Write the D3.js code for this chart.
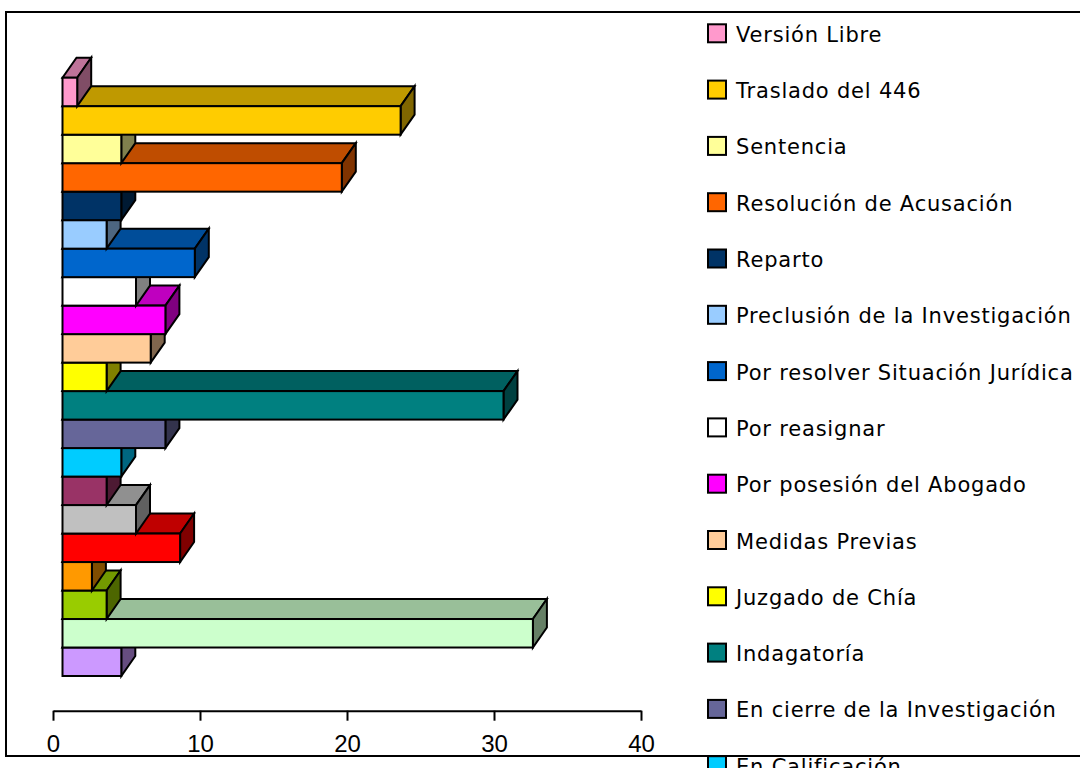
<!DOCTYPE html>
<html>
<head>
<meta charset="utf-8">
<script src="https://cdn.jsdelivr.net/npm/d3@7"></script>
<style>
  body { margin: 0; background: #fff; }
  svg { display: block; }
</style>
</head>
<body>
<div class="chart"></div>
<script>
//categories from top to bottom, as in the legend
var categories = ["Versión Libre", "Traslado del 446", "Sentencia", "Resolución de Acusación",
  "Reparto", "Preclusión de la Investigación", "Por resolver Situación Jurídica", "Por reasignar",
  "Por posesión del Abogado", "Medidas Previas", "Juzgado de Chía", "Indagatoría",
  "En cierre de la Investigación", "En Calificación", "En Apelación", "Devolución",
  "Despacho Comisorio", "Cesación de Procedimiento", "Auto Inhibitorio",
  "Apertura de Instrucción", "Acumulación"];

//number of processes in each state
var values = [1, 23, 4, 19, 4, 3, 9, 5, 7, 6, 3, 30, 7, 4, 3, 5, 8, 2, 3, 32, 4];

//front colour of each bar
var colors = ["#FF99CC", "#FFCC00", "#FFFF99", "#FF6600", "#003366", "#99CCFF", "#0066CC",
  "#FFFFFF", "#FF00FF", "#FFCC99", "#FFFF00", "#008080", "#666699", "#00CCFF", "#993366",
  "#C0C0C0", "#FF0000", "#FF9900", "#99CC00", "#CCFFCC", "#CC99FF"];

//value axis ticks
var ticks = [0, 10, 20, 30, 40];

var width = 1080, height = 768;

var svg = d3.select(".chart").append("svg")
  .attr("width", width)
  .attr("height", height);

//chart border (the right side runs off the picture)
svg.append("rect")
  .attr("x", 6).attr("y", 12)
  .attr("width", 1100).attr("height", 744)
  .attr("fill", "none")
  .attr("stroke", "#000")
  .attr("stroke-width", 2);

//scales
var x = d3.scaleLinear().domain([0, 40]).range([53, 641]);
var barShift = 9.5; //front of the bars sits a bit right of the axis
var y = d3.scaleBand().domain(categories).range([77.7, 676]).padding(0);

//depth of the 3d effect
var depthX = 14, depthY = -20;

//makes a colour darker by a factor
function shade(c, k) {
  var rgb = d3.rgb(c);
  return d3.rgb(rgb.r * k, rgb.g * k, rgb.b * k).formatHex();
}

var rows = categories.map(function(name, i) {
  return { name: name, value: values[i], color: colors[i] };
});

//draw bars from the bottom up so the upper fronts cover the lower tops
var bars = svg.append("g").selectAll(".bar")
  .data(rows.slice().reverse())
  .enter()
  .append("g")
  .attr("class", "bar");

function face(points) {
  return "M" + points.map(function(p) { return p.join(","); }).join("L") + "Z";
}

bars.append("path")
  .attr("d", function(d) {
    var x0 = x(0) + barShift, x1 = x(d.value) + barShift, y0 = y(d.name);
    return face([[x0, y0], [x1, y0], [x1 + depthX, y0 + depthY], [x0 + depthX, y0 + depthY]]);
  })
  .attr("fill", function(d) { return shade(d.color, 0.75); });

bars.append("path")
  .attr("d", function(d) {
    var x1 = x(d.value) + barShift, y0 = y(d.name), y1 = y0 + y.bandwidth();
    return face([[x1, y0], [x1, y1], [x1 + depthX, y1 + depthY], [x1 + depthX, y0 + depthY]]);
  })
  .attr("fill", function(d) { return shade(d.color, 0.5); });

bars.append("rect")
  .attr("x", x(0) + barShift)
  .attr("y", function(d) { return y(d.name); })
  .attr("width", function(d) { return x(d.value) - x(0); })
  .attr("height", y.bandwidth())
  .attr("fill", function(d) { return d.color; });

bars.selectAll("path, rect")
  .attr("stroke", "#000")
  .attr("stroke-width", 2)
  .attr("stroke-linejoin", "miter");

//value axis
var axis = svg.append("g")
  .attr("transform", "translate(0,710.7)")
  .call(d3.axisBottom(x).tickValues(ticks).tickSize(10).tickSizeOuter(0).tickPadding(14));

axis.select(".domain").attr("stroke", "#000").attr("stroke-width", 2);
axis.selectAll(".tick line").attr("stroke", "#000").attr("stroke-width", 2);
axis.selectAll(".tick text")
  .attr("fill", "#000")
  .style("font-family", "'Liberation Sans', Arial, sans-serif")
  .style("font-size", "24px");

//legend
var legend = svg.append("g").selectAll(".item")
  .data(rows)
  .enter()
  .append("g")
  .attr("class", "item")
  .attr("transform", function(d, i) { return "translate(708," + (24.3 + i * 56.3) + ")"; });

legend.append("rect")
  .attr("width", 18)
  .attr("height", 18)
  .attr("fill", function(d) { return d.color; })
  .attr("stroke", "#000")
  .attr("stroke-width", 2);

legend.append("text")
  .attr("x", 28)
  .attr("y", 17.5)
  .text(function(d) { return d.name; })
  .style("font-family", "'DejaVu Sans', sans-serif")
  .style("font-size", "21px")
  .style("letter-spacing", "0.8px")
  .attr("fill", "#000");
</script>
</body>
</html>
